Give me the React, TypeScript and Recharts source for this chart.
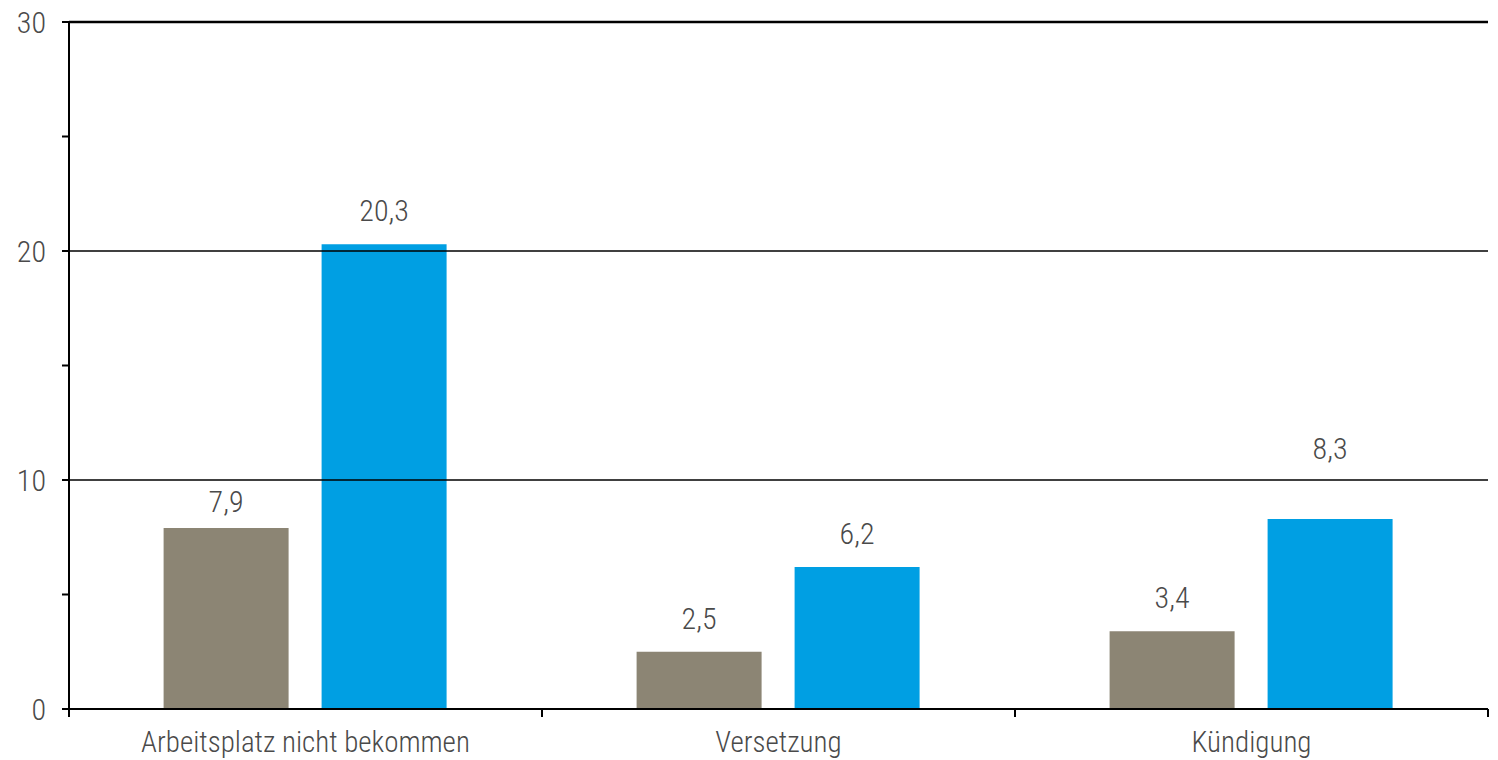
import React from 'react';
import {
  BarChart,
  Bar,
  XAxis,
  YAxis,
  ReferenceLine,
  LabelList
} from 'recharts';

document.body.style.margin = '0';

const categories = ['Arbeitsplatz nicht bekommen', 'Versetzung', 'Kündigung'];
const seriesGray = [7.9, 2.5, 3.4];
const seriesBlue = [20.3, 6.2, 8.3];
const yTicks = [0, 5, 10, 15, 20, 25, 30];
const gridValues = [10, 20];

// extra lift of a few value labels, as placed in the original
const grayLabelLift = [-7, 0, 0];
const blueLabelLift = [0, 0, 37];

const data = categories.map((name, i) => ({
  name,
  gray: seriesGray[i],
  blue: seriesBlue[i]
}));

const FONT = '"Roboto Condensed", "Liberation Sans Narrow", Roboto, sans-serif';
const TEXT = '#4a4a4a';
const TICK_GAP = 22;
const formatValue = (v: any) => Number(v).toFixed(1).replace('.', ',');

const valueLabel = (lift: number[]) => (props: any) => {
  const { x, y, width, value, index } = props;
  return (
    <text
      x={Number(x) + Number(width) / 2}
      y={Number(y) - 23 - (lift[index] || 0)}
      textAnchor="middle"
      fill={TEXT}
      fontSize={30}
      fontWeight={300}
      fontFamily={FONT}
    >
      {formatValue(value)}
    </text>
  );
};

// category label plus a tick mark on the band boundaries
const CategoryTick = (props: any) => {
  const { x, y, width, payload, index } = props;
  const half = Number(width) / categories.length / 2;
  const axisY = y - TICK_GAP;
  const marks = [x - half];
  if (index === categories.length - 1) marks.push(x + half);
  return (
    <g>
      {Number.isFinite(half) &&
        marks.map((mx, i) => (
          <line key={i} x1={mx} x2={mx} y1={axisY} y2={axisY + 8} stroke="#000" strokeWidth={2} />
        ))}
      <text
        x={x}
        y={y}
        dy="0.71em"
        textAnchor="middle"
        fill={TEXT}
        fontSize={29}
        fontWeight={300}
        fontFamily={FONT}
      >
        {payload.value}
      </text>
    </g>
  );
};

export default function App() {
  return (
    <div style={{ width: 1498, height: 760, background: '#fff' }}>
      <BarChart
        width={1498}
        height={760}
        data={data}
        margin={{ top: 22, right: 10, left: 0, bottom: 0 }}
        barCategoryGap="20%"
        barGap={33}
      >
        <XAxis
          dataKey="name"
          height={51}
          axisLine={{ stroke: '#000', strokeWidth: 2 }}
          tickLine={false}
          tickSize={0}
          tickMargin={TICK_GAP}
          interval={0}
          tick={<CategoryTick />}
        />
        <YAxis
          width={69}
          domain={[0, 30]}
          ticks={yTicks}
          interval={0}
          axisLine={{ stroke: '#000', strokeWidth: 2 }}
          tickLine={{ stroke: '#000', strokeWidth: 2 }}
          tickSize={7}
          tickMargin={16}
          tickFormatter={(v: number) => (v % 10 === 0 ? String(v) : '')}
          tick={{ fill: TEXT, fontSize: 30, fontWeight: 300, fontFamily: FONT }}
        />
        {gridValues.map((v) => (
          <ReferenceLine key={'g' + v} y={v} stroke="#000" strokeWidth={1.5} />
        ))}
        <ReferenceLine y={30} stroke="#000" strokeWidth={2.5} />
        <Bar dataKey="gray" fill="#8c8574" isAnimationActive={false}>
          <LabelList dataKey="gray" content={valueLabel(grayLabelLift)} />
        </Bar>
        <Bar dataKey="blue" fill="#009fe3" isAnimationActive={false}>
          <LabelList dataKey="blue" content={valueLabel(blueLabelLift)} />
        </Bar>
      </BarChart>
    </div>
  );
}
